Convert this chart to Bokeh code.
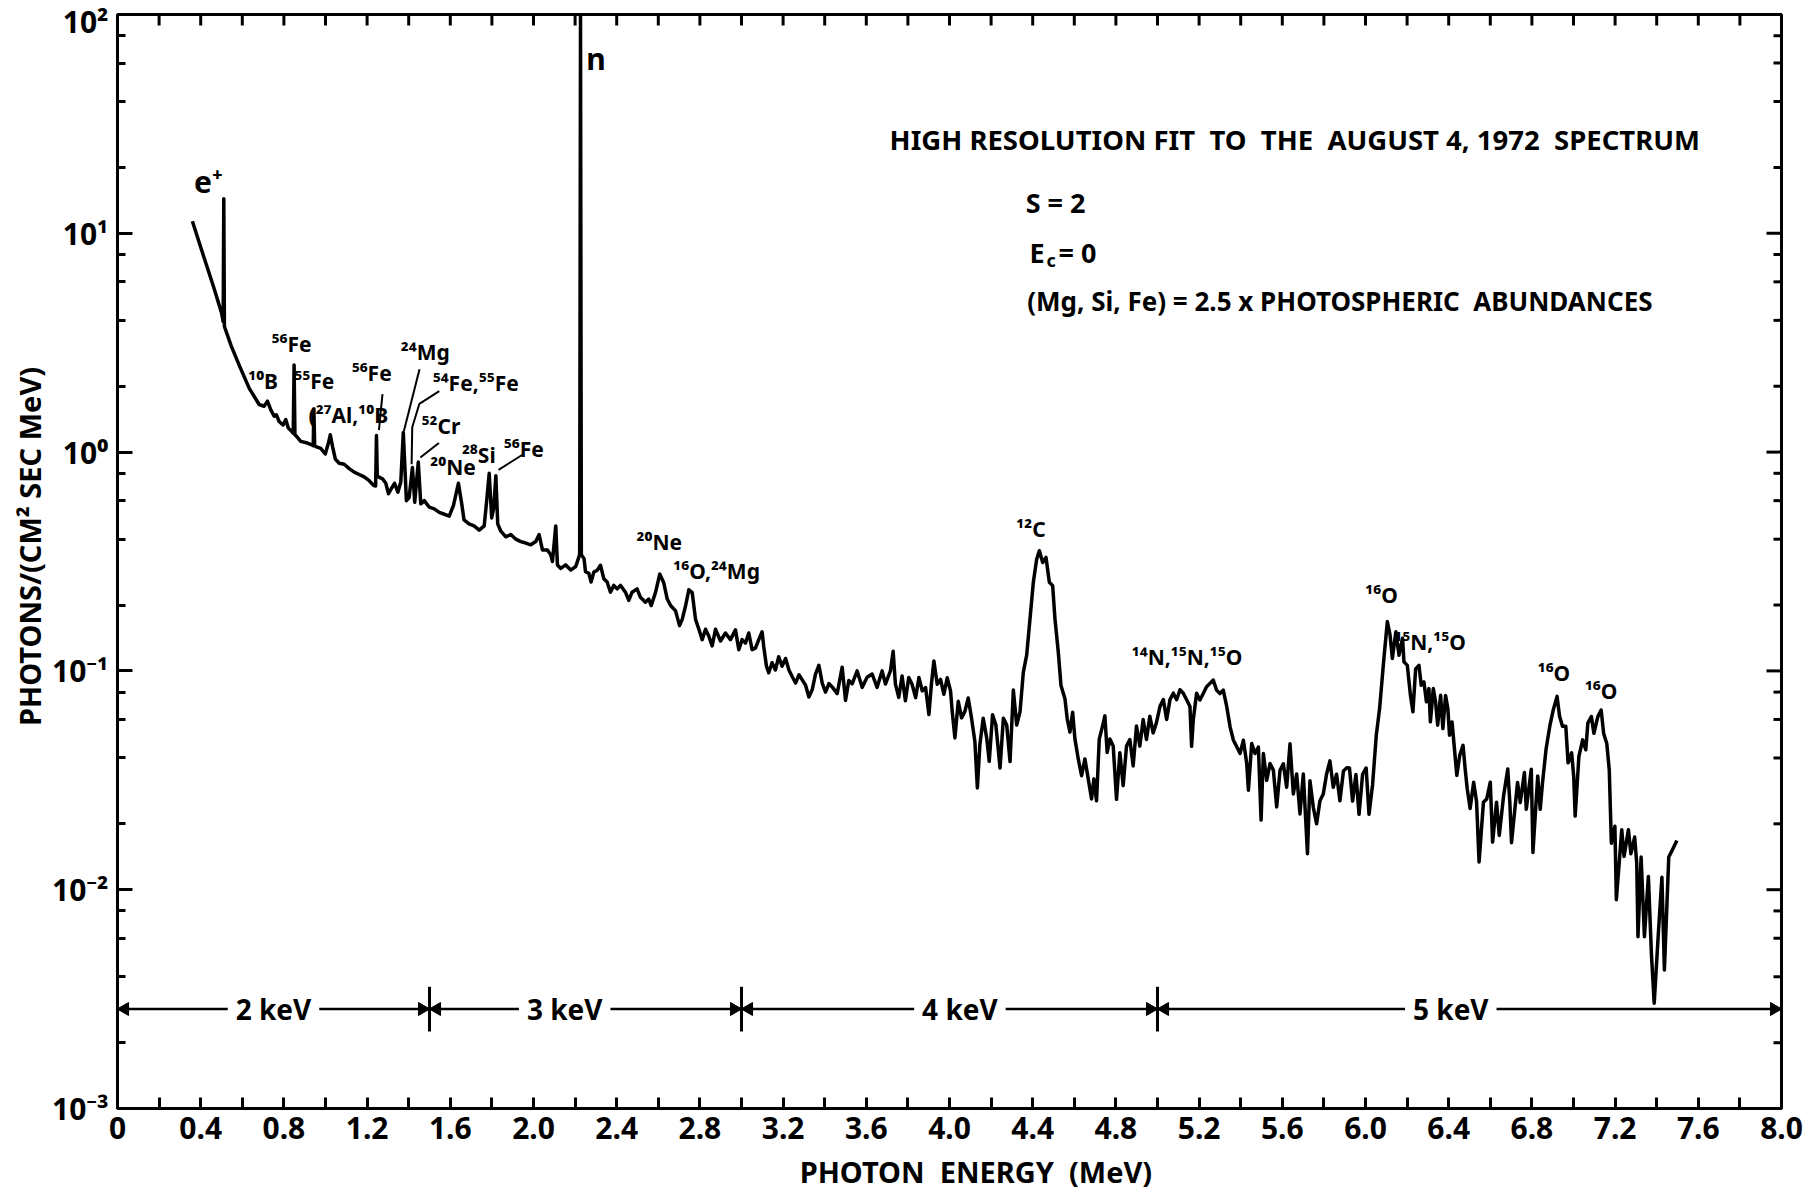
from bokeh.plotting import figure
from bokeh.models import FixedTicker, Label, ColumnDataSource
from bokeh.core.properties import value
from bokeh.embed import file_html
from bokeh.resources import INLINE

FONT = "Noto Sans"
NB = "\u00a0"

# ---------------- spectrum (photon energy MeV, photons/(cm2 s MeV)) ----------------
energy = [
    0.360, 0.414, 0.461, 0.500, 0.508, 0.511, 0.514, 0.547, 0.587, 0.634, 0.649, 0.681, 0.705, 0.721,
    0.737, 0.753, 0.764, 0.777, 0.796, 0.809, 0.821, 0.838, 0.845, 0.849, 0.853, 0.861, 0.881, 0.913,
    0.934, 0.941, 0.944, 0.948, 0.954, 0.977, 0.999, 1.014, 1.023, 1.034, 1.047, 1.066, 1.090, 1.114,
    1.138, 1.162, 1.186, 1.210, 1.231, 1.241, 1.245, 1.249, 1.255, 1.274, 1.290, 1.303, 1.316, 1.332,
    1.348, 1.362, 1.374, 1.389, 1.402, 1.418, 1.429, 1.446, 1.458, 1.475, 1.499, 1.523, 1.547, 1.571,
    1.595, 1.615, 1.639, 1.655, 1.666, 1.690, 1.714, 1.739, 1.763, 1.775, 1.787, 1.799, 1.809, 1.819,
    1.828, 1.843, 1.867, 1.891, 1.915, 1.939, 1.963, 1.987, 2.011, 2.027, 2.043, 2.067, 2.083, 2.091,
    2.107, 2.115, 2.131, 2.155, 2.179, 2.203, 2.222, 2.226, 2.230, 2.243, 2.250, 2.266, 2.277, 2.290,
    2.306, 2.322, 2.338, 2.354, 2.370, 2.386, 2.402, 2.418, 2.442, 2.458, 2.474, 2.498, 2.514, 2.538,
    2.554, 2.566, 2.587, 2.607, 2.626, 2.643, 2.659, 2.683, 2.702, 2.715, 2.731, 2.747, 2.763, 2.771,
    2.779, 2.795, 2.811, 2.827, 2.843, 2.859, 2.875, 2.899, 2.923, 2.947, 2.971, 2.987, 3.003, 3.019,
    3.035, 3.051, 3.067, 3.083, 3.099, 3.107, 3.120, 3.131, 3.147, 3.163, 3.179, 3.195, 3.212, 3.228,
    3.244, 3.260, 3.276, 3.292, 3.308, 3.324, 3.340, 3.356, 3.372, 3.388, 3.404, 3.420, 3.436, 3.460,
    3.484, 3.500, 3.516, 3.532, 3.556, 3.580, 3.604, 3.628, 3.652, 3.676, 3.692, 3.716, 3.729, 3.740,
    3.756, 3.772, 3.788, 3.804, 3.820, 3.837, 3.853, 3.869, 3.885, 3.901, 3.913, 3.925, 3.941, 3.957,
    3.973, 3.989, 4.005, 4.013, 4.026, 4.042, 4.058, 4.074, 4.090, 4.106, 4.122, 4.134, 4.146, 4.162,
    4.179, 4.191, 4.207, 4.223, 4.243, 4.259, 4.275, 4.291, 4.307, 4.323, 4.339, 4.355, 4.371, 4.387,
    4.403, 4.419, 4.432, 4.448, 4.464, 4.480, 4.496, 4.507, 4.523, 4.536, 4.555, 4.566, 4.579, 4.592,
    4.603, 4.619, 4.635, 4.651, 4.667, 4.683, 4.694, 4.707, 4.720, 4.736, 4.747, 4.758, 4.771, 4.787,
    4.803, 4.819, 4.835, 4.851, 4.867, 4.883, 4.899, 4.915, 4.931, 4.947, 4.963, 4.979, 4.995, 5.012,
    5.028, 5.044, 5.060, 5.076, 5.092, 5.108, 5.124, 5.140, 5.156, 5.164, 5.172, 5.188, 5.204, 5.220,
    5.236, 5.252, 5.268, 5.284, 5.300, 5.316, 5.333, 5.349, 5.365, 5.381, 5.397, 5.413, 5.429, 5.437,
    5.453, 5.469, 5.485, 5.498, 5.509, 5.525, 5.541, 5.557, 5.573, 5.589, 5.605, 5.621, 5.637, 5.653,
    5.669, 5.685, 5.701, 5.721, 5.733, 5.749, 5.765, 5.781, 5.797, 5.813, 5.829, 5.845, 5.861, 5.877,
    5.894, 5.910, 5.923, 5.938, 5.954, 5.969, 5.986, 6.003, 6.017, 6.034, 6.052, 6.068, 6.087, 6.105,
    6.118, 6.129, 6.146, 6.161, 6.178, 6.185, 6.201, 6.216, 6.228, 6.241, 6.257, 6.268, 6.281, 6.293,
    6.305, 6.312, 6.326, 6.337, 6.347, 6.361, 6.372, 6.385, 6.396, 6.404, 6.416, 6.429, 6.439, 6.453,
    6.469, 6.479, 6.489, 6.503, 6.520, 6.534, 6.546, 6.567, 6.583, 6.600, 6.611, 6.630, 6.643, 6.664,
    6.684, 6.694, 6.702, 6.731, 6.744, 6.764, 6.773, 6.797, 6.805, 6.828, 6.840, 6.851, 6.868, 6.886,
    6.903, 6.921, 6.933, 6.947, 6.963, 6.974, 6.991, 7.001, 7.008, 7.026, 7.044, 7.059, 7.069, 7.086,
    7.098, 7.117, 7.133, 7.145, 7.160, 7.172, 7.182, 7.199, 7.206, 7.232, 7.243, 7.264, 7.276, 7.294,
    7.304, 7.310, 7.325, 7.341, 7.360, 7.375, 7.388, 7.407, 7.425, 7.437, 7.458, 7.474, 7.497,
]
flux = [
    11.35, 7.85, 5.73, 4.34, 3.95, 14.4, 3.75, 3.05, 2.47, 1.95, 1.85, 1.65, 1.62, 1.71,
    1.56, 1.46, 1.48, 1.38, 1.33, 1.41, 1.29, 1.24, 1.22, 2.50, 1.20, 1.18, 1.12, 1.10,
    1.08, 1.07, 1.58, 1.07, 1.06, 1.04, 0.98, 1.10, 1.20, 1.06, 0.93, 0.89, 0.88, 0.84,
    0.81, 0.79, 0.77, 0.74, 0.705, 0.70, 1.19, 0.78, 0.77, 0.755, 0.72, 0.645, 0.68, 0.72,
    0.656, 0.73, 1.23, 0.60, 0.62, 0.85, 0.59, 0.90, 0.58, 0.60, 0.56, 0.55, 0.53, 0.52,
    0.51, 0.57, 0.72, 0.58, 0.49, 0.47, 0.46, 0.44, 0.46, 0.60, 0.80, 0.50, 0.556, 0.78,
    0.47, 0.435, 0.41, 0.42, 0.40, 0.39, 0.384, 0.377, 0.39, 0.42, 0.357, 0.357, 0.339, 0.316,
    0.46, 0.305, 0.294, 0.305, 0.289, 0.30, 0.34, 98.0, 0.34, 0.326, 0.284, 0.279, 0.255, 0.283,
    0.288, 0.304, 0.264, 0.255, 0.229, 0.246, 0.237, 0.246, 0.229, 0.210, 0.229, 0.237, 0.217, 0.206,
    0.213, 0.199, 0.229, 0.277, 0.253, 0.213, 0.199, 0.188, 0.161, 0.172, 0.198, 0.235, 0.228, 0.198,
    0.172, 0.155, 0.139, 0.155, 0.144, 0.130, 0.155, 0.137, 0.149, 0.139, 0.154, 0.125, 0.139, 0.134,
    0.149, 0.125, 0.127, 0.139, 0.151, 0.129, 0.105, 0.098, 0.109, 0.101, 0.116, 0.105, 0.114, 0.101,
    0.094, 0.088, 0.096, 0.091, 0.086, 0.076, 0.082, 0.097, 0.106, 0.088, 0.080, 0.0875, 0.0845, 0.0787,
    0.104, 0.0733, 0.0904, 0.0873, 0.100, 0.0841, 0.0935, 0.0968, 0.0841, 0.100, 0.0871, 0.100, 0.123, 0.087,
    0.0757, 0.0948, 0.073, 0.0933, 0.0869, 0.0755, 0.0933, 0.081, 0.0839, 0.0632, 0.0869, 0.111, 0.0868, 0.0914,
    0.0782, 0.093, 0.081, 0.0653, 0.0494, 0.0726, 0.061, 0.0653, 0.0752, 0.0608, 0.0476, 0.0292, 0.046, 0.0608,
    0.0493, 0.0386, 0.063, 0.0566, 0.036, 0.0608, 0.0566, 0.0385, 0.0817, 0.0566, 0.065, 0.0988, 0.118, 0.173,
    0.254, 0.324, 0.354, 0.313, 0.330, 0.254, 0.245, 0.173, 0.122, 0.0857, 0.0745, 0.0604, 0.0525, 0.0647,
    0.0489, 0.0396, 0.0332, 0.0396, 0.0321, 0.026, 0.0321, 0.0255, 0.0488, 0.0561, 0.0623, 0.0424, 0.0488, 0.0454,
    0.0259, 0.0423, 0.0299, 0.0453, 0.0486, 0.0368, 0.056, 0.0453, 0.060, 0.0486, 0.0621, 0.0521, 0.058, 0.0689,
    0.0739, 0.060, 0.0739, 0.0791, 0.0738, 0.082, 0.079, 0.0738, 0.0687, 0.0452, 0.0598, 0.079, 0.0736, 0.0789,
    0.0847, 0.0877, 0.0908, 0.0817, 0.0788, 0.0817, 0.0686, 0.0555, 0.0482, 0.045, 0.042, 0.0482, 0.0377, 0.0285,
    0.0466, 0.0419, 0.0449, 0.0208, 0.0419, 0.0316, 0.0377, 0.0352, 0.0239, 0.0351, 0.0376, 0.0294, 0.0464, 0.0274,
    0.0338, 0.0222, 0.0338, 0.0146, 0.0315, 0.0238, 0.020, 0.0255, 0.0274, 0.0338, 0.0388, 0.0294, 0.0337, 0.0255,
    0.0349, 0.0361, 0.036, 0.0254, 0.0336, 0.0221, 0.0337, 0.036, 0.0221, 0.0302, 0.051, 0.0676, 0.110, 0.168,
    0.146, 0.114, 0.151, 0.118, 0.141, 0.110, 0.106, 0.0775, 0.065, 0.102, 0.106, 0.086, 0.089, 0.0722,
    0.083, 0.0585, 0.083, 0.072, 0.0565, 0.0773, 0.0545, 0.0772, 0.0671, 0.0508, 0.0584, 0.0426, 0.0333, 0.0411,
    0.0457, 0.0357, 0.029, 0.0235, 0.031, 0.0252, 0.0134, 0.0251, 0.026, 0.031, 0.0165, 0.0251, 0.0177, 0.0269,
    0.0356, 0.025, 0.0164, 0.0309, 0.025, 0.0343, 0.0233, 0.0355, 0.0148, 0.0331, 0.0233, 0.0308, 0.0438, 0.0559,
    0.0665, 0.0765, 0.062, 0.0559, 0.0558, 0.038, 0.0422, 0.033, 0.0217, 0.0407, 0.0484, 0.0436, 0.0577, 0.0618,
    0.0519, 0.0618, 0.0662, 0.0518, 0.0466, 0.0352, 0.0163, 0.0195, 0.0090, 0.0188, 0.0142, 0.0188, 0.0146, 0.0174,
    0.0132, 0.0061, 0.0141, 0.0061, 0.0115, 0.0050, 0.00303, 0.0061, 0.0114, 0.0043, 0.0141, 0.0151, 0.0168,
]

# ---------------- axes ----------------
x_ticks = [0.0, 0.4, 0.8, 1.2, 1.6, 2.0, 2.4, 2.8, 3.2, 3.6, 4.0, 4.4, 4.8, 5.2, 5.6, 6.0, 6.4, 6.8, 7.2, 7.6, 8.0]
x_tick_labels = ["0", "0.4", "0.8", "1.2", "1.6", "2.0", "2.4", "2.8", "3.2", "3.6", "4.0",
                 "4.4", "4.8", "5.2", "5.6", "6.0", "6.4", "6.8", "7.2", "7.6", "8.0"]
x_minor = [0.2, 0.6, 1.0, 1.4, 1.8, 2.2, 2.6, 3.0, 3.4, 3.8, 4.2, 4.6, 5.0, 5.4, 5.8, 6.2, 6.6, 7.0, 7.4, 7.8]
y_ticks = [0.001, 0.01, 0.1, 1, 10, 100]
y_tick_labels = ["10⁻³", "10⁻²", "10⁻¹", "10⁰", "10¹", "10²"]
y_minor = [0.002, 0.004, 0.006, 0.008, 0.02, 0.04, 0.06, 0.08, 0.2, 0.4, 0.6, 0.8,
           2, 4, 6, 8, 20, 40, 60, 80]
x_title = NB * 7 + "PHOTON" + NB * 2 + "ENERGY" + NB * 2 + "(MeV)"
y_title = NB * 4 + "PHOTONS/(CM² SEC MeV)"

# ---------------- annotations ----------------
iso_labels = ["⁵⁶Fe", "¹⁰B", "⁵⁵Fe", "(²⁷Al,¹⁰B", "⁵⁶Fe", "²⁴Mg", "⁵⁴Fe,⁵⁵Fe", "⁵²Cr", "²⁰Ne", "²⁸Si",
              "⁵⁶Fe", "²⁰Ne", "¹⁶O,²⁴Mg", "¹²C", "¹⁴N,¹⁵N,¹⁵O", "¹⁶O", "¹⁵N,¹⁵O", "¹⁶O", "¹⁶O"]
iso_x = [0.837, 0.70, 0.946, 1.11, 1.222, 1.48, 1.722, 1.555, 1.613, 1.737,
         1.953, 2.605, 2.88, 4.392, 5.142, 6.077, 6.31, 6.906, 7.133]
iso_y = [3.12, 2.12, 2.12, 1.47, 2.31, 2.87, 2.08, 1.31, 0.855, 0.97,
         1.03, 0.39, 0.286, 0.447, 0.116, 0.223, 0.136, 0.0975, 0.081]

big_labels = ["e⁺", "n"]
big_x = [0.437, 2.30]
big_y = [17.2, 63.0]

leader_x = [[1.452, 1.377], [1.547, 1.451, 1.417, 1.414], [1.545, 1.456], [1.945, 1.832], [1.274, 1.257]]
leader_y = [[2.39, 1.25], [1.90, 1.66, 1.30, 0.88], [1.10, 0.944], [0.97, 0.83], [1.84, 1.26]]

res_edges = [0.0, 1.5, 3.0, 5.0, 8.0]
res_text = ["2 keV", "3 keV", "4 keV", "5 keV"]
res_text_x = [0.75, 2.15, 4.05, 6.41]
res_level = 2.85e-3
res_tick_lo, res_tick_hi = 2.25e-3, 3.6e-3

info_title = "HIGH RESOLUTION FIT" + NB + " TO" + NB + " THE" + NB + " AUGUST 4, 1972" + NB + " SPECTRUM"
info_lines = ["S = 2", "(Mg, Si, Fe) = 2.5 x PHOTOSPHERIC" + NB + " ABUNDANCES"]

# ---------------- layout constants ----------------
W, H = 1810, 1193
BL, BR, BT, BB = 117, 29, 14, 85
X0, X1, LOG0, LOG1 = 0.0, 8.0, -3, 2
px_per_mev = (W - BL - BR) / (X1 - X0)
px_per_dec = (H - BT - BB) / (LOG1 - LOG0)

p = figure(width=W, height=H, output_backend="svg", toolbar_location=None,
           x_range=(X0, X1), y_range=(10.0 ** LOG0, 10.0 ** LOG1), y_axis_type="log",
           min_border_left=BL, min_border_right=BR, min_border_top=BT, min_border_bottom=BB,
           background_fill_color="white", border_fill_color="white")
p.grid.visible = False
p.outline_line_color = "black"
p.outline_line_width = 3

def style_axis(ax, major_in, minor_in):
    ax.axis_line_width = 3
    ax.axis_line_color = "black"
    ax.major_tick_line_width = 3
    ax.minor_tick_line_width = 3
    ax.major_tick_in = major_in
    ax.major_tick_out = 0
    ax.minor_tick_in = minor_in
    ax.minor_tick_out = 0
    ax.major_label_text_font = FONT
    ax.major_label_text_font_style = "bold"
    ax.major_label_text_color = "black"
    ax.major_label_text_font_size = "30px"
    ax.axis_label_text_font = FONT
    ax.axis_label_text_font_style = "bold"
    ax.axis_label_text_font_size = "29px"
    ax.axis_label_text_color = "black"

xa = p.xaxis[0]
xa.ticker = FixedTicker(ticks=x_ticks, minor_ticks=x_minor)
xa.major_label_overrides = dict(zip(x_ticks, x_tick_labels))
xa.axis_label = x_title
style_axis(xa, 11, 11)
xa.major_label_standoff = 8
xa.axis_label_standoff = 10

ya = p.yaxis[0]
ya.ticker = FixedTicker(ticks=y_ticks, minor_ticks=y_minor)
ya.major_label_overrides = dict(zip(y_ticks, y_tick_labels))
ya.axis_label = y_title
style_axis(ya, 15, 8)
ya.major_label_standoff = 9
ya.axis_label_standoff = 0

# inward ticks on top and right edges of the frame
top_len = 11 / px_per_dec
tx = x_ticks + x_minor
p.segment(x0=tx, y0=[10.0 ** LOG1] * len(tx), x1=tx, y1=[10.0 ** (LOG1 - top_len)] * len(tx),
          line_color="black", line_width=3)
ry = y_ticks + y_minor
rlen = [15 / px_per_mev] * len(y_ticks) + [8 / px_per_mev] * len(y_minor)
p.segment(x0=[X1] * len(ry), y0=ry, x1=[X1 - l for l in rlen], y1=ry, line_color="black", line_width=3)

# spectrum
p.line(energy, flux, line_width=3.5, line_color="black", line_join="round")

# leader lines
p.multi_line(leader_x, leader_y, line_color="black", line_width=2)

# peak labels
src = ColumnDataSource(dict(x=iso_x, y=iso_y, t=iso_labels))
p.text("x", "y", text="t", source=src, text_font=value(FONT), text_font_style="bold",
       text_font_size="21px", text_align="center", text_baseline="middle", text_color="black")
src2 = ColumnDataSource(dict(x=big_x, y=big_y, t=big_labels))
p.text("x", "y", text="t", source=src2, text_font=value(FONT), text_font_style="bold",
       text_font_size="30px", text_align="center", text_baseline="middle", text_color="black")

# resolution bars: lines broken around the text, arrowheads pointing at the dividers
gap = 0.22
head = 0.035
seg_x0, seg_x1 = [], []
for a, b, c in zip(res_edges[:-1], res_edges[1:], res_text_x):
    seg_x0 += [a, c + gap]
    seg_x1 += [c - gap, b]
p.segment(x0=seg_x0, y0=[res_level] * len(seg_x0), x1=seg_x1, y1=[res_level] * len(seg_x1),
          line_color="black", line_width=2.5)
left_heads = [a + head for a in res_edges[:-1]]
right_heads = [b - head for b in res_edges[1:]]
p.scatter(left_heads, [res_level] * len(left_heads), marker="triangle", size=13, angle=1.5708,
          fill_color="black", line_color="black")
p.scatter(right_heads, [res_level] * len(right_heads), marker="triangle", size=13, angle=-1.5708,
          fill_color="black", line_color="black")
p.segment(x0=res_edges[1:-1], y0=[res_tick_lo] * 3, x1=res_edges[1:-1], y1=[res_tick_hi] * 3,
          line_color="black", line_width=3)
src3 = ColumnDataSource(dict(x=res_text_x, y=[res_level] * len(res_text_x), t=res_text))
p.text("x", "y", text="t", source=src3, text_font=value(FONT), text_font_style="bold",
       text_font_size="28px", text_align="center", text_baseline="middle", text_color="black")

# info block
def lab(x, y, t, size="27px", xo=0, yo=0):
    p.add_layout(Label(x=x, y=y, text=t, x_offset=xo, y_offset=yo, text_font=FONT,
                       text_font_style="bold", text_font_size=size, text_align="left",
                       text_baseline="middle", text_color="black"))

lab(3.712, 26.8, info_title, size="27.5px")
lab(4.366, 13.8, info_lines[0])
lab(4.385, 8.2, "E")
lab(4.385, 8.2, "c", size="18px", xo=17, yo=-8)
lab(4.385, 8.2, "= 0", xo=29)
lab(4.374, 4.88, info_lines[1], size="26px")

open("out.html", "w").write(file_html(p, INLINE))
